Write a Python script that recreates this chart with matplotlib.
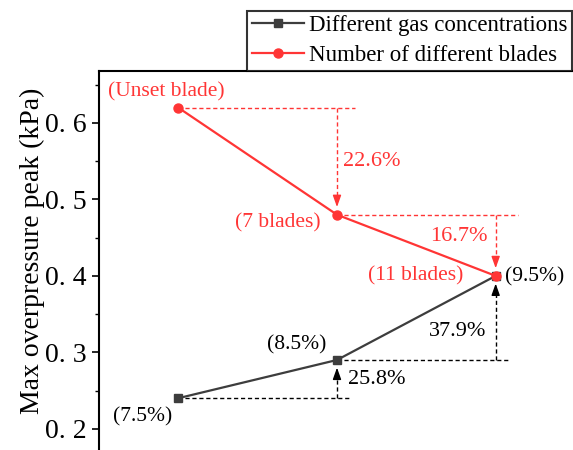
import matplotlib.pyplot as plt
from matplotlib.ticker import FuncFormatter, MultipleLocator

plt.rcParams['font.family'] = ['Liberation Serif', 'DejaVu Serif']
plt.rcParams['mathtext.fontset'] = 'stix'

# x positions (gas concentration, %) and peak overpressure (kPa)
conc = [7.5, 8.5, 9.5]
gas_peak = [0.24, 0.29, 0.40]
blade_peak = [0.62, 0.48, 0.40]

gas_labels = ['(7.5%)', '(8.5%)', '(9.5%)']
blade_labels = ['(Unset blade)', '(7 blades)', '(11 blades)']
blade_drop = ['22.6%', '16.7%']
gas_rise = ['25.8%', '37.9%']

RED = '#ff3535'
DARK = '#3d3d3d'

fig = plt.figure(figsize=(5.73, 4.5), dpi=100)
ax = fig.add_axes([99 / 573, -17 / 450, 476 / 573, (450 - 71 + 17) / 450])

ax.plot(conc, gas_peak, color=DARK, lw=1.6, marker='s', ms=5.5,
        label='Different gas concentrations', zorder=4)
ax.plot(conc, blade_peak, color=RED, lw=1.6, marker='o', ms=6.5,
        label='Number of different blades', zorder=4)

ax.set_xlim(7.0, 10.0)
ax.set_ylim(0.15, 0.668)
ax.set_xticks([])
ax.yaxis.set_major_locator(MultipleLocator(0.1))
ax.yaxis.set_minor_locator(MultipleLocator(0.05))
ax.yaxis.set_major_formatter(FuncFormatter(lambda v, p: f'{v:.1f}'.replace('.', '. ')))
ax.tick_params(axis='y', which='major', direction='out', length=5, width=1.2,
               labelsize=20, pad=4)
ax.tick_params(axis='y', which='minor', direction='out', length=3, width=1.0)
for s in ax.spines.values():
    s.set_linewidth(1.5)
ax.set_ylabel('Max overpressure peak (kPa)', fontsize=20)
ax.yaxis.set_label_coords(-54 / 476, 0.545)

dash = (0, (3, 2))


def guide(x0, x1, x_arrow, y_from, y_to, color):
    # dashed reference line + dashed arrow showing the change
    ax.plot([x0, x1], [y_from, y_from], color=color, lw=1, ls=dash, zorder=2)
    step = 0.01 if y_to > y_from else -0.01
    tip = y_to - step
    ax.plot([x_arrow, x_arrow], [y_from, tip - step * 0.8], color=color, lw=1,
            ls=dash, zorder=2)
    ax.annotate('', xy=(x_arrow, tip), xytext=(x_arrow, tip - step * 1.2),
                arrowprops=dict(arrowstyle='-|>,head_length=0.7,head_width=0.25',
                                color=color, lw=1, shrinkA=0, shrinkB=0))


guide(conc[0], 8.615, conc[1], blade_peak[0], blade_peak[1], RED)
guide(conc[1], 9.643, conc[2], blade_peak[1], blade_peak[2], RED)
guide(conc[0], 8.584, conc[1], gas_peak[0], gas_peak[1], 'black')
guide(conc[1], 9.593, conc[2], gas_peak[1], gas_peak[2], 'black')

fs = 15.5
ax.text(7.423, 0.641, blade_labels[0], color=RED, fontsize=fs, ha='center', va='center')
ax.text(8.394, 0.470, blade_labels[1], color=RED, fontsize=fs, ha='right', va='center')
ax.text(9.297, 0.400, blade_labels[2], color=RED, fontsize=fs, ha='right', va='center')
ax.text(8.536, 0.549, blade_drop[0], color=RED, fontsize=16, ha='left', va='center')
ax.text(9.448, 0.451, blade_drop[1], color=RED, fontsize=16, ha='right', va='center')

ax.text(7.461, 0.215, gas_labels[0], color='black', fontsize=fs, ha='right', va='center')
ax.text(8.432, 0.310, gas_labels[1], color='black', fontsize=fs, ha='right', va='center')
ax.text(9.561, 0.399, gas_labels[2], color='black', fontsize=fs, ha='left', va='center')
ax.text(8.571, 0.264, gas_rise[0], color='black', fontsize=16, ha='left', va='center')
ax.text(9.442, 0.327, gas_rise[1], color='black', fontsize=16, ha='right', va='center')

leg = fig.legend(loc='lower right', bbox_to_anchor=(572 / 573, 1 - 71 / 450),
                 fontsize=16.5, frameon=True, fancybox=False, edgecolor='black',
                 handlelength=2.3, handletextpad=0.2, borderpad=0.2,
                 labelspacing=0.4, borderaxespad=0)
leg.get_frame().set_linewidth(1.5)

fig.savefig('out.png', dpi=100)
